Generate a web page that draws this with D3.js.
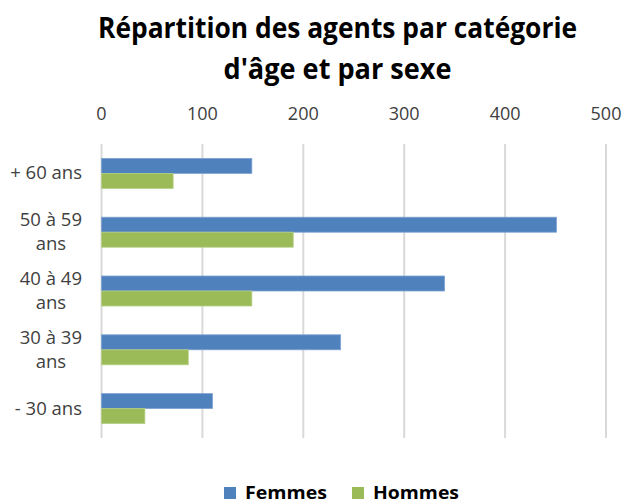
<!DOCTYPE html>
<html>
<head>
<meta charset="utf-8">
<script src="https://cdn.jsdelivr.net/npm/d3@7"></script>
<style>
  body { margin: 0; background: #fff; }
  svg { display: block; font-family: 'Open Sans', sans-serif; }
</style>
</head>
<body>
<div id="app"></div>
<script>
const categories = [['+ 60 ans'], ['50 à 59', 'ans'], ['40 à 49', 'ans'], ['30 à 39', 'ans'], ['- 30 ans']];
const femmes = [149, 451, 340, 237, 110];
const hommes = [71, 190, 149, 86, 43];
const seriesNames = ['Femmes', 'Hommes'];
const tickValues = [0, 100, 200, 300, 400, 500];
const titleLines = ['Répartition des agents par catégorie', "d'âge et par sexe"];

const width = 625;
const height = 504;
const colors = ['#4f81bd', '#9bbb59'];
const strokes = ['#7ea3d3', '#b5cf85'];

const svg = d3.select('#app').append('svg')
  .attr('width', width)
  .attr('height', height);

const x = d3.scaleLinear().domain([0, 500]).range([101.5, 606]);
const keys = categories.map((_, i) => i);
const y = d3.scaleBand().domain(keys).range([144, 438]).paddingInner(0.49).paddingOuter(0.245);
const sub = d3.scaleBand().domain([0, 1]).range([0, y.bandwidth()]);

// title
svg.append('g').selectAll('text')
  .data(titleLines)
  .enter().append('text')
  .attr('x', 337.5)
  .attr('y', (d, i) => 38 + i * 41)
  .attr('text-anchor', 'middle')
  .attr('font-size', 28)
  .attr('font-weight', 'bold')
  .attr('fill', '#000')
  .attr('textLength', (d, i) => i ? 228 : 479)
  .attr('lengthAdjust', 'spacingAndGlyphs')
  .text(d => d);

// gridlines
svg.append('g').selectAll('line')
  .data(tickValues)
  .enter().append('line')
  .attr('x1', d => x(d)).attr('x2', d => x(d))
  .attr('y1', 144).attr('y2', 438)
  .attr('stroke', '#d9d9d9')
  .attr('stroke-width', 2);

// top axis labels
svg.append('g').selectAll('text')
  .data(tickValues)
  .enter().append('text')
  .attr('x', d => x(d))
  .attr('y', 120)
  .attr('text-anchor', 'middle')
  .attr('font-size', 18)
  .attr('fill', '#404040')
  .text(d => d);

// bars
const rows = keys.map(i => [femmes[i], hommes[i]]);
const groups = svg.append('g').selectAll('g')
  .data(rows)
  .enter().append('g')
  .attr('transform', (d, i) => `translate(0,${y(i)})`);

groups.selectAll('rect')
  .data(d => d)
  .enter().append('rect')
  .attr('x', x(0))
  .attr('y', (d, j) => sub(j))
  .attr('width', d => x(d) - x(0))
  .attr('height', sub.bandwidth())
  .attr('fill', (d, j) => colors[j])
  .attr('stroke', (d, j) => strokes[j])
  .attr('stroke-width', 0.8);

// category labels
const labels = svg.append('g').selectAll('text')
  .data(categories)
  .enter().append('text')
  .attr('font-size', 18.5)
  .attr('fill', '#404040')
  .attr('text-anchor', 'middle');

labels.each(function(lines, i) {
  const t = d3.select(this);
  const cy = y(i) + y.bandwidth() / 2;
  const lh = 24;
  lines.forEach((line, k) => {
    t.append('tspan')
      .attr('y', cy + (k - (lines.length - 1) / 2) * lh + 6)
      .text(line);
  });
  const maxW = d3.max(t.selectAll('tspan').nodes(), n => n.getComputedTextLength());
  t.selectAll('tspan').attr('x', 82 - maxW / 2);
});

// legend
const legendX = [224, 352];
const legend = svg.append('g').selectAll('g')
  .data(seriesNames)
  .enter().append('g')
  .attr('transform', (d, i) => `translate(${legendX[i]},487)`);

legend.append('rect')
  .attr('width', 12).attr('height', 12)
  .attr('fill', (d, i) => colors[i]);

legend.append('text')
  .attr('x', 21)
  .attr('y', 12)
  .attr('font-size', 17)
  .attr('font-weight', 'bold')
  .attr('fill', '#000')
  .attr('textLength', (d, i) => i ? 86 : 82)
  .attr('lengthAdjust', 'spacingAndGlyphs')
  .text(d => d);
</script>
</body>
</html>
